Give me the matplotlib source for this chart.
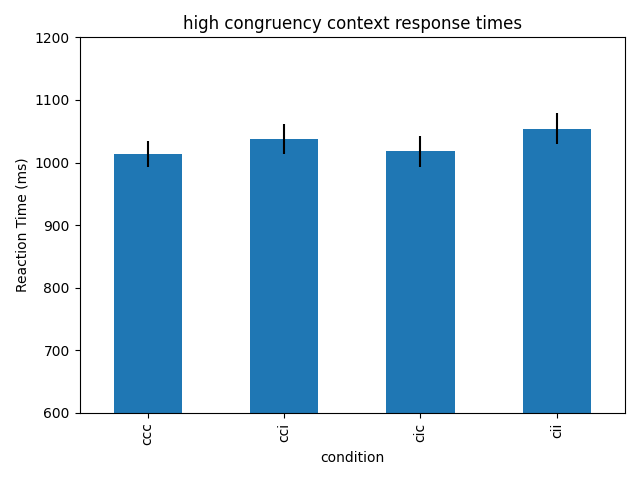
import matplotlib
matplotlib.use("Agg")
import matplotlib.pyplot as plt
import pandas as pd

conditions = ["ccc", "cci", "cic", "cii"]
means = [1014, 1038, 1018, 1054]
errors = [21, 24, 25, 25]

df = pd.DataFrame({"rt": means, "err": errors}, index=pd.Index(conditions, name="condition"))

fig, ax = plt.subplots(figsize=(6.4, 4.8), dpi=100)
df["rt"].plot(kind="bar", yerr=df["err"], ax=ax, color="#1f77b4")
ax.set_ylim(600, 1200)
ax.set_title("high congruency context response times")
ax.set_ylabel("Reaction Time (ms)")
ax.set_xlabel("condition")
plt.tight_layout()
plt.savefig("out.png")
